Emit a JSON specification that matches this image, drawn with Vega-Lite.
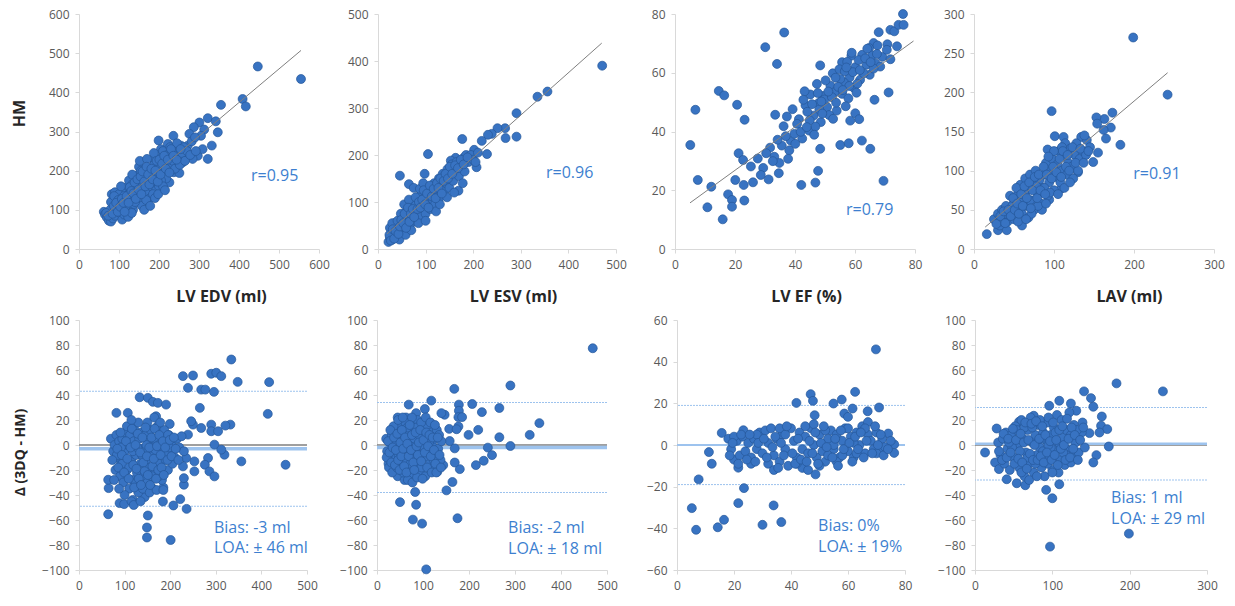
{
"$schema":"https://vega.github.io/schema/vega-lite/v6.json",
"padding":{"left":11,"top":8,"right":5,"bottom":5},
"config":{"view":{"stroke":null},"font":"Open Sans",
"axis":{"domainColor":"#d9d9d9","tickColor":"#d9d9d9","labelColor":"#595959","labelFont":"Open Sans","labelFontSize":12,"grid":false,"tickSize":4,"labelPadding":6,"titleFont":"Open Sans","titleFontWeight":"bold","titleColor":"#262626","titleFontSize":16,"labelFlush":false,"labelOverlap":false},
"circle":{"size":80,"fill":"#3873c2","stroke":"#25579a","strokeWidth":0.7,"opacity":1},
"text":{"font":"Open Sans","fontSize":16,"color":"#3d7fd0","align":"left","baseline":"middle"}},
"datasets":{
"edv_s":[{"x":447,"y":466},{"x":555,"y":434},{"x":409,"y":383},{"x":417,"y":364},{"x":355,"y":368},{"x":322,"y":334},{"x":342,"y":326},{"x":347,"y":298},{"x":332,"y":264},{"x":301,"y":323},{"x":313,"y":305},{"x":287,"y":311},{"x":305,"y":289},{"x":276,"y":294},{"x":272,"y":264},{"x":236,"y":289},{"x":199,"y":277},{"x":205,"y":255},{"x":226,"y":170},{"x":237,"y":196},{"x":251,"y":194},{"x":255,"y":264},{"x":222,"y":268},{"x":267,"y":238},{"x":297,"y":238},{"x":309,"y":255},{"x":284,"y":230},{"x":322,"y":230},{"x":247,"y":230},{"x":259,"y":221},
{"x":62,"y":95},{"x":65,"y":88},{"x":70,"y":80},{"x":75,"y":72},{"x":80,"y":70},{"x":85,"y":78},{"x":78,"y":100},{"x":80,"y":120},{"x":82,"y":140},{"x":90,"y":145},{"x":95,"y":130},{"x":100,"y":140},{"x":100,"y":115},{"x":95,"y":100},{"x":90,"y":85},{"x":105,"y":90},{"x":110,"y":100},{"x":115,"y":125},{"x":118,"y":150},{"x":122,"y":160},{"x":125,"y":140},{"x":128,"y":105},{"x":130,"y":120},{"x":135,"y":100},{"x":138,"y":130},{"x":140,"y":150},{"x":143,"y":175},{"x":145,"y":160},{"x":148,"y":190},{"x":150,"y":210},{"x":152,"y":225},{"x":155,"y":200},{"x":158,"y":165},{"x":160,"y":140},{"x":162,"y":120},{"x":165,"y":150},{"x":168,"y":185},{"x":170,"y":200},{"x":172,"y":170},{"x":175,"y":145},{"x":178,"y":130},{"x":180,"y":160},{"x":183,"y":195},{"x":185,"y":230},{"x":188,"y":215},{"x":190,"y":175},{"x":193,"y":150},{"x":195,"y":185},{"x":198,"y":200},{"x":200,"y":160},{"x":203,"y":210},{"x":206,"y":235},{"x":210,"y":250},{"x":212,"y":195},{"x":215,"y":220},{"x":218,"y":180},{"x":220,"y":240},{"x":225,"y":210},{"x":228,"y":260},{"x":232,"y":245},{"x":235,"y":225},{"x":240,"y":205},{"x":242,"y":250},{"x":245,"y":270},{"x":250,"y":240},{"x":252,"y":215},{"x":258,"y":245},{"x":262,"y":260},{"x":265,"y":225},{"x":270,"y":250},{"x":278,"y":240},{"x":282,"y":275},{"x":290,"y":285},{"x":292,"y":250},{"x":108,"y":75},{"x":113,"y":88},{"x":120,"y":95},{"x":123,"y":82},{"x":132,"y":92},{"x":137,"y":115},{"x":147,"y":135},{"x":153,"y":128},{"x":157,"y":110},{"x":163,"y":100},{"x":168,"y":125},{"x":178,"y":110},{"x":185,"y":140},{"x":190,"y":130},{"x":198,"y":140},{"x":205,"y":175},{"x":210,"y":160},{"x":215,"y":150},{"x":125,"y":175},{"x":133,"y":165},{"x":145,"y":140},{"x":105,"y":160},{"x":88,"y":135},{"x":98,"y":125},{"x":112,"y":135},{"x":140,"y":120},{"x":117,"y":110},{"x":160,"y":180},{"x":170,"y":230},{"x":175,"y":205},{"x":152,"y":165},{"x":133,"y":190},
{"x":68,"y":92},{"x":73,"y":85},{"x":84,"y":90},{"x":87,"y":110},{"x":93,"y":118},{"x":97,"y":95},{"x":103,"y":108},{"x":107,"y":128},{"x":111,"y":118},{"x":114,"y":95},{"x":119,"y":135},{"x":124,"y":118},{"x":127,"y":158},{"x":131,"y":148},{"x":136,"y":142},{"x":139,"y":170},{"x":142,"y":128},{"x":146,"y":178},{"x":149,"y":152},{"x":154,"y":185},{"x":156,"y":140},{"x":159,"y":198},{"x":163,"y":172},{"x":166,"y":160},{"x":169,"y":210},{"x":173,"y":190},{"x":176,"y":165},{"x":181,"y":205},{"x":184,"y":178},{"x":187,"y":245},{"x":191,"y":200},{"x":194,"y":225},{"x":197,"y":172},{"x":201,"y":228},{"x":204,"y":190},{"x":208,"y":218},{"x":213,"y":238},{"x":217,"y":205},{"x":222,"y":228},{"x":226,"y":195},{"x":230,"y":255},{"x":236,"y":238},{"x":244,"y":228},{"x":254,"y":255}],
"esv_s":[{"x":471,"y":390},{"x":356,"y":335},{"x":335,"y":324},{"x":291,"y":289},{"x":291,"y":239},{"x":268,"y":236},{"x":267,"y":257},{"x":251,"y":257},{"x":239,"y":245},{"x":231,"y":243},{"x":218,"y":230},{"x":229,"y":202},{"x":177,"y":234},{"x":105,"y":202},{"x":46,"y":156},{"x":98,"y":160},{"x":207,"y":174},{"x":202,"y":211},{"x":169,"y":124},{"x":65,"y":138},{"x":181,"y":195},{"x":163,"y":194},{"x":153,"y":188},
{"x":22,"y":15},{"x":25,"y":25},{"x":28,"y":35},{"x":30,"y":20},{"x":33,"y":40},{"x":35,"y":30},{"x":38,"y":50},{"x":40,"y":25},{"x":42,"y":45},{"x":45,"y":60},{"x":48,"y":35},{"x":50,"y":50},{"x":52,"y":70},{"x":55,"y":45},{"x":55,"y":95},{"x":58,"y":60},{"x":60,"y":80},{"x":62,"y":40},{"x":65,"y":70},{"x":68,"y":90},{"x":70,"y":55},{"x":72,"y":100},{"x":75,"y":75},{"x":78,"y":60},{"x":80,"y":95},{"x":82,"y":110},{"x":85,"y":80},{"x":88,"y":70},{"x":90,"y":100},{"x":92,"y":120},{"x":95,"y":90},{"x":98,"y":110},{"x":100,"y":75},{"x":102,"y":130},{"x":105,"y":100},{"x":108,"y":115},{"x":110,"y":85},{"x":112,"y":125},{"x":115,"y":105},{"x":118,"y":140},{"x":120,"y":95},{"x":122,"y":80},{"x":125,"y":120},{"x":128,"y":150},{"x":130,"y":110},{"x":133,"y":135},{"x":136,"y":160},{"x":140,"y":125},{"x":143,"y":140},{"x":146,"y":170},{"x":150,"y":130},{"x":152,"y":155},{"x":155,"y":180},{"x":158,"y":145},{"x":160,"y":165},{"x":165,"y":185},{"x":170,"y":155},{"x":175,"y":175},{"x":178,"y":140},{"x":182,"y":165},{"x":185,"y":200},{"x":190,"y":185},{"x":195,"y":200},{"x":200,"y":190},{"x":205,"y":185},{"x":210,"y":205},{"x":45,"y":20},{"x":58,"y":30},{"x":70,"y":40},{"x":85,"y":55},{"x":100,"y":60},{"x":65,"y":105},{"x":75,"y":130},{"x":88,"y":128},{"x":35,"y":55},{"x":48,"y":75},{"x":60,"y":50},{"x":95,"y":140},{"x":115,"y":120},{"x":130,"y":95},{"x":145,"y":110},{"x":160,"y":120},{"x":25,"y":45},{"x":30,"y":55},
{"x":24,"y":30},{"x":27,"y":18},{"x":31,"y":42},{"x":34,"y":22},{"x":37,"y":38},{"x":41,"y":60},{"x":43,"y":32},{"x":46,"y":48},{"x":49,"y":62},{"x":53,"y":55},{"x":56,"y":75},{"x":59,"y":45},{"x":63,"y":88},{"x":66,"y":58},{"x":69,"y":75},{"x":73,"y":85},{"x":76,"y":68},{"x":79,"y":110},{"x":83,"y":85},{"x":86,"y":100},{"x":89,"y":88},{"x":93,"y":105},{"x":96,"y":125},{"x":99,"y":95},{"x":103,"y":118},{"x":106,"y":88},{"x":109,"y":135},{"x":113,"y":112},{"x":117,"y":128},{"x":121,"y":108},{"x":124,"y":140},{"x":127,"y":130},{"x":131,"y":150},{"x":134,"y":118},{"x":138,"y":145},{"x":142,"y":160},{"x":147,"y":150},{"x":151,"y":175},{"x":156,"y":160},{"x":162,"y":178},{"x":168,"y":172},{"x":174,"y":190},{"x":180,"y":180},{"x":188,"y":195}],
"ef_s":[{"x":5.1,"y":35.4},{"x":6.8,"y":47.4},{"x":7.6,"y":23.5},{"x":10.8,"y":14.2},{"x":12.1,"y":21.2},{"x":14.6,"y":53.8},{"x":15.9,"y":10.1},{"x":16.4,"y":52.3},{"x":17.7,"y":18.6},{"x":19,"y":16.7},{"x":19,"y":14.4},{"x":20.7,"y":49.1},{"x":21.2,"y":32.6},{"x":23.1,"y":16.5},{"x":23.2,"y":44},{"x":20.1,"y":23.5},{"x":22.9,"y":21.8},{"x":26,"y":22.7},{"x":30.1,"y":68.7},{"x":34,"y":63},{"x":36.4,"y":73.7},{"x":33.4,"y":45.7},{"x":31.2,"y":23.7},{"x":34.6,"y":25.8},{"x":42.1,"y":21.8},{"x":46.8,"y":22.6},{"x":47.7,"y":26.6},{"x":48.4,"y":34.1},{"x":48.4,"y":62.5},{"x":55.1,"y":35.4},{"x":57.9,"y":36},{"x":58.4,"y":43.7},{"x":60.1,"y":46.2},{"x":61.4,"y":44.2},{"x":62.3,"y":36.9},{"x":65.1,"y":34.1},{"x":66.5,"y":50.8},{"x":69.5,"y":23.2},{"x":71.2,"y":53.3},{"x":55.7,"y":63.6},{"x":58.8,"y":65.8},{"x":67.9,"y":73.8},{"x":71.8,"y":74.6},{"x":73.1,"y":74.1},{"x":76,"y":80},{"x":74.5,"y":76.3},{"x":76.2,"y":76.3},{"x":74,"y":69},{"x":70.8,"y":69.7},{"x":66.2,"y":70.1},{"x":64.7,"y":68.4},
{"x":41.3,"y":44.2},{"x":55.7,"y":52.8},{"x":33.1,"y":31.4},{"x":62.4,"y":66.1},{"x":47.9,"y":49.7},{"x":38.6,"y":36.9},{"x":58.2,"y":58.4},{"x":44.7,"y":40.3},{"x":51.8,"y":55.6},{"x":66.8,"y":63.2},{"x":29.4,"y":27.6},{"x":53.9,"y":47.1},{"x":60.1,"y":61.9},{"x":36.2,"y":41.8},{"x":49.3,"y":52.1},{"x":57.4,"y":63.7},{"x":43.5,"y":48.9},{"x":64.9,"y":59.3},{"x":31.7,"y":34.5},{"x":46.2,"y":45.4},{"x":52.6,"y":59.8},{"x":39.8,"y":39.2},{"x":69.1,"y":65.4},{"x":56.3,"y":56.7},{"x":48.6,"y":43.2},{"x":61.7,"y":57.6},{"x":34.8,"y":29.3},{"x":45.1,"y":52.6},{"x":54.8,"y":61.2},{"x":42.4,"y":37.6},{"x":67.5,"y":69.3},{"x":50.7,"y":48.3},{"x":59.6,"y":54.9},{"x":37.3,"y":45.1},{"x":63.8,"y":62.7},{"x":27.6,"y":30.8},{"x":53.2,"y":53.4},{"x":47.3,"y":56.2},{"x":58.9,"y":66.8},{"x":40.7,"y":42.6},{"x":65.7,"y":65.9},{"x":44.1,"y":46.7},{"x":55.1,"y":57.9},{"x":49.8,"y":50.9},{"x":35.6,"y":35.2},{"x":61.2,"y":64.3},{"x":51.4,"y":45.6},{"x":57.8,"y":51.3},{"x":46.8,"y":41.7},{"x":68.4,"y":62.1},{"x":43.2,"y":53.7},{"x":38.1,"y":33.6},{"x":62.9,"y":59.8},{"x":52.3,"y":51.7},{"x":56.6,"y":60.5},{"x":48.1,"y":47.5},{"x":70.6,"y":67.8},{"x":41.9,"y":39.9},{"x":59.3,"y":60.2},{"x":54.4,"y":55.2},{"x":32.6,"y":29.9},{"x":45.7,"y":49.3},{"x":64.1,"y":68.2},{"x":50.2,"y":57.4},{"x":60.8,"y":56.3},{"x":39.2,"y":47.6},{"x":66.2,"y":61.4},{"x":53.7,"y":49.8},{"x":47.6,"y":53.1},{"x":58.1,"y":55.5},{"x":44.9,"y":43.8},{"x":71.8,"y":64.6},{"x":63.4,"y":64.9},{"x":55.9,"y":54.1},{"x":49.1,"y":46.1},{"x":36.9,"y":38.4},{"x":42.8,"y":50.8},{"x":57.1,"y":61.8},{"x":61.6,"y":60.9},{"x":51.1,"y":53.6},{"x":30.4,"y":32.6},{"x":46.4,"y":38.9},{"x":53.5,"y":58.3},{"x":65.2,"y":63.6},{"x":40.1,"y":35.8},{"x":67.3,"y":66.4},{"x":48.8,"y":50.2},{"x":25.3,"y":28.1},{"x":22.7,"y":30.3},{"x":34.2,"y":37.2},{"x":56.9,"y":48.6},{"x":43.9,"y":41.5},{"x":52.7,"y":44.3},{"x":37.7,"y":30.7},{"x":28.6,"y":25.2},{"x":60.5,"y":53.2}],
"lav_s":[{"x":199,"y":270},{"x":242,"y":197},{"x":97,"y":176},{"x":173,"y":174},{"x":183,"y":133},{"x":171,"y":155},{"x":163,"y":166},{"x":153,"y":168},{"x":154,"y":160},{"x":162,"y":152},{"x":165,"y":141},{"x":155,"y":123},{"x":149,"y":111},{"x":130,"y":98},{"x":94,"y":63},{"x":134,"y":143},{"x":141,"y":139},{"x":101,"y":144},{"x":112,"y":143},{"x":92,"y":127},{"x":109,"y":77},{"x":16,"y":19},{"x":30,"y":24},{"x":41,"y":24},
{"x":25,"y":38},{"x":30,"y":45},{"x":32,"y":30},{"x":35,"y":50},{"x":38,"y":40},{"x":40,"y":55},{"x":42,"y":35},{"x":45,"y":68},{"x":47,"y":48},{"x":50,"y":60},{"x":52,"y":42},{"x":55,"y":70},{"x":57,"y":52},{"x":58,"y":82},{"x":60,"y":45},{"x":62,"y":65},{"x":64,"y":90},{"x":65,"y":55},{"x":67,"y":75},{"x":68,"y":40},{"x":70,"y":95},{"x":72,"y":62},{"x":74,"y":85},{"x":75,"y":50},{"x":77,"y":100},{"x":80,"y":70},{"x":82,"y":88},{"x":84,"y":58},{"x":86,"y":78},{"x":88,"y":95},{"x":90,"y":110},{"x":92,"y":68},{"x":94,"y":85},{"x":96,"y":100},{"x":98,"y":115},{"x":100,"y":75},{"x":102,"y":92},{"x":104,"y":108},{"x":106,"y":125},{"x":108,"y":85},{"x":110,"y":100},{"x":112,"y":118},{"x":114,"y":135},{"x":116,"y":95},{"x":118,"y":110},{"x":120,"y":128},{"x":122,"y":105},{"x":124,"y":90},{"x":126,"y":120},{"x":128,"y":135},{"x":132,"y":115},{"x":136,"y":125},{"x":138,"y":145},{"x":140,"y":120},{"x":145,"y":130},{"x":60,"y":30},{"x":72,"y":45},{"x":85,"y":50},{"x":50,"y":38},{"x":55,"y":35},{"x":65,"y":38},{"x":78,"y":80},{"x":88,"y":78},{"x":95,"y":72},{"x":105,"y":70},{"x":113,"y":78},{"x":120,"y":85},{"x":48,"y":55},{"x":53,"y":78},{"x":63,"y":72},{"x":70,"y":62},{"x":80,"y":55},{"x":90,"y":58},{"x":100,"y":125},{"x":110,"y":130},{"x":115,"y":105},{"x":130,"y":100},{"x":35,"y":35},{"x":40,"y":45},
{"x":28,"y":32},{"x":33,"y":42},{"x":37,"y":48},{"x":39,"y":33},{"x":43,"y":50},{"x":46,"y":42},{"x":49,"y":65},{"x":51,"y":50},{"x":54,"y":58},{"x":56,"y":45},{"x":59,"y":70},{"x":61,"y":55},{"x":63,"y":80},{"x":66,"y":65},{"x":69,"y":85},{"x":71,"y":52},{"x":73,"y":75},{"x":76,"y":92},{"x":79,"y":65},{"x":81,"y":95},{"x":83,"y":75},{"x":87,"y":105},{"x":89,"y":70},{"x":91,"y":95},{"x":93,"y":118},{"x":97,"y":90},{"x":99,"y":105},{"x":103,"y":98},{"x":107,"y":115},{"x":109,"y":92},{"x":111,"y":125},{"x":117,"y":120},{"x":119,"y":100},{"x":123,"y":130},{"x":127,"y":110},{"x":133,"y":128},{"x":137,"y":110},{"x":143,"y":125}],
"edv_ba":[{"x":334,"y":68.4},{"x":417,"y":50.3},{"x":414,"y":24.9},{"x":348,"y":50.5},{"x":250,"y":55.6},{"x":228,"y":55.1},{"x":290,"y":57},{"x":301,"y":57.8},{"x":312,"y":55.1},{"x":239,"y":45.7},{"x":268,"y":44.3},{"x":277,"y":44.3},{"x":296,"y":42.5},{"x":265,"y":29.7},{"x":453,"y":-15.8},{"x":356,"y":-13.1},{"x":319,"y":-7.8},{"x":332,"y":16.3},{"x":321,"y":15.5},{"x":290,"y":16.3},{"x":290,"y":11},{"x":305,"y":11},{"x":297,"y":0.3},{"x":312,"y":-3.7},{"x":283,"y":-10.4},{"x":253,"y":-13.1},{"x":235,"y":-10.4},{"x":276,"y":-15.8},{"x":286,"y":-21.1},{"x":297,"y":-25.1},{"x":228,"y":-17.1},{"x":253,"y":-21.1},{"x":230,"y":-31.8},{"x":230,"y":-26.5},{"x":236,"y":-51.1},{"x":222,"y":-43.3},{"x":207,"y":-48.4},{"x":201,"y":-76},{"x":185,"y":-34},{"x":184,"y":-45.2},{"x":250,"y":16.3},{"x":246,"y":19},{"x":268,"y":13.6},{"x":239,"y":8.3},
{"x":64,"y":-55.4},{"x":65,"y":-34.5},{"x":64,"y":-27.8},{"x":89,"y":-46.5},{"x":99,"y":-47.3},{"x":118,"y":-43.9},{"x":144,"y":-41.7},{"x":151,"y":-56.4},{"x":149,"y":-66},{"x":149,"y":-74},{"x":82,"y":25.7},{"x":107,"y":25.7},{"x":133,"y":38.2},{"x":151,"y":37.7},{"x":162,"y":34.5},{"x":173,"y":33.7},{"x":191,"y":32.3},{"x":169,"y":23},{"x":118,"y":16.3},{"x":199,"y":16.8},
{"x":70,"y":5},{"x":75,"y":-5},{"x":78,"y":0},{"x":80,"y":-20},{"x":82,"y":8},{"x":85,"y":-10},{"x":88,"y":3},{"x":90,"y":-25},{"x":92,"y":-15},{"x":95,"y":5},{"x":97,"y":-30},{"x":100,"y":-5},{"x":102,"y":10},{"x":105,"y":-20},{"x":108,"y":0},{"x":110,"y":-35},{"x":112,"y":8},{"x":115,"y":-12},{"x":118,"y":-28},{"x":120,"y":3},{"x":122,"y":12},{"x":125,"y":-8},{"x":127,"y":-22},{"x":130,"y":-38},{"x":132,"y":5},{"x":135,"y":-15},{"x":137,"y":10},{"x":140,"y":-3},{"x":142,"y":-25},{"x":145,"y":8},{"x":147,"y":-12},{"x":150,"y":-30},{"x":152,"y":2},{"x":155,"y":-18},{"x":157,"y":12},{"x":160,"y":-6},{"x":162,"y":-35},{"x":165,"y":5},{"x":167,"y":-22},{"x":170,"y":-10},{"x":172,"y":15},{"x":175,"y":0},{"x":177,"y":-15},{"x":180,"y":8},{"x":182,"y":-28},{"x":185,"y":-3},{"x":187,"y":12},{"x":190,"y":-12},{"x":192,"y":2},{"x":195,"y":-20},{"x":197,"y":8},{"x":200,"y":-5},{"x":205,"y":3},{"x":210,"y":-10},{"x":215,"y":5},{"x":220,"y":-2},{"x":225,"y":7},{"x":230,"y":-5},{"x":100,"y":-40},{"x":115,"y":-45},{"x":125,"y":-30},{"x":140,"y":-35},{"x":155,"y":-38},{"x":170,"y":-36},{"x":185,"y":-36},{"x":95,"y":-15},{"x":105,"y":15},{"x":130,"y":18},{"x":150,"y":18},{"x":165,"y":22},{"x":178,"y":18},{"x":120,"y":-48},{"x":88,"y":-35},{"x":135,"y":-45},{"x":160,"y":-25},{"x":145,"y":-5},{"x":175,"y":-25},{"x":195,"y":8},{"x":205,"y":-15},{"x":115,"y":20},{"x":83,"y":-8},{"x":92,"y":-2},{"x":110,"y":-18},{"x":118,"y":-5},{"x":128,"y":-2},{"x":138,"y":-8},{"x":148,"y":0},{"x":158,"y":-2},{"x":168,"y":-4},{"x":188,"y":-6},{"x":198,"y":-2},
{"x":73,"y":-12},{"x":77,"y":-28},{"x":84,"y":-3},{"x":86,"y":-18},{"x":91,"y":10},{"x":94,"y":-8},{"x":99,"y":-22},{"x":103,"y":3},{"x":106,"y":-11},{"x":109,"y":-27},{"x":113,"y":-2},{"x":116,"y":13},{"x":119,"y":-16},{"x":121,"y":-34},{"x":124,"y":0},{"x":126,"y":-19},{"x":129,"y":9},{"x":131,"y":-27},{"x":134,"y":-6},{"x":136,"y":-32},{"x":139,"y":6},{"x":141,"y":-14},{"x":144,"y":-21},{"x":146,"y":14},{"x":149,"y":-9},{"x":151,"y":-24},{"x":154,"y":-2},{"x":156,"y":-32},{"x":159,"y":6},{"x":161,"y":-17},{"x":164,"y":-11},{"x":166,"y":13},{"x":169,"y":-27},{"x":171,"y":-1},{"x":174,"y":-20},{"x":176,"y":8},{"x":179,"y":-8},{"x":181,"y":-18},{"x":184,"y":3},{"x":186,"y":-24},{"x":189,"y":-2},{"x":194,"y":-12},{"x":199,"y":4},{"x":203,"y":-9},{"x":208,"y":6},{"x":212,"y":-3},{"x":218,"y":-12}],
"esv_ba":[{"x":469,"y":77.4},{"x":290,"y":47.6},{"x":168,"y":44.9},{"x":118,"y":35.5},{"x":69,"y":32.3},{"x":104,"y":28.8},{"x":207,"y":32.8},{"x":228,"y":26.3},{"x":266,"y":29.6},{"x":353,"y":17.5},{"x":332,"y":8.1},{"x":266,"y":6.2},{"x":290,"y":-0.8},{"x":241,"y":-2.1},{"x":250,"y":-8.1},{"x":232,"y":-12.6},{"x":215,"y":-16.1},{"x":220,"y":12.1},{"x":199,"y":8.1},{"x":178,"y":32.3},{"x":178,"y":27.4},{"x":177,"y":22.3},{"x":185,"y":22.3},{"x":177,"y":14.8},{"x":157,"y":12.9},{"x":173,"y":12.6},{"x":169,"y":-2.7},{"x":180,"y":-19.3},{"x":169,"y":-14},{"x":164,"y":-29.6},{"x":151,"y":-36.3},{"x":83,"y":-37.6},{"x":50,"y":-45.7},{"x":85,"y":-47.8},{"x":78,"y":-59.7},{"x":98,"y":-62.9},{"x":175,"y":-58.6},{"x":107,"y":-99.5},{"x":147,"y":24.2},{"x":140,"y":25.5},{"x":158,"y":3.2},{"x":144,"y":-16.1},{"x":131,"y":-21.5},{"x":45,"y":22},{"x":63,"y":22},{"x":85,"y":25.5},
{"x":20,"y":5},{"x":22,"y":-5},{"x":25,"y":-15},{"x":28,"y":2},{"x":30,"y":-8},{"x":32,"y":8},{"x":35,"y":-20},{"x":38,"y":0},{"x":40,"y":12},{"x":42,"y":-10},{"x":45,"y":-25},{"x":48,"y":5},{"x":50,"y":15},{"x":52,"y":-5},{"x":55,"y":-15},{"x":58,"y":8},{"x":60,"y":-28},{"x":62,"y":18},{"x":65,"y":-3},{"x":68,"y":10},{"x":70,"y":-20},{"x":72,"y":3},{"x":75,"y":-10},{"x":78,"y":15},{"x":80,"y":-25},{"x":82,"y":5},{"x":85,"y":-5},{"x":88,"y":20},{"x":90,"y":-15},{"x":92,"y":8},{"x":95,"y":-22},{"x":98,"y":0},{"x":100,"y":12},{"x":102,"y":-10},{"x":105,"y":-25},{"x":108,"y":5},{"x":110,"y":15},{"x":112,"y":-5},{"x":115,"y":-15},{"x":118,"y":10},{"x":120,"y":0},{"x":122,"y":-18},{"x":125,"y":5},{"x":128,"y":-8},{"x":130,"y":12},{"x":133,"y":-3},{"x":135,"y":8},{"x":138,"y":-12},{"x":140,"y":3},{"x":26,"y":-18},{"x":33,"y":-22},{"x":43,"y":-18},{"x":57,"y":-22},{"x":67,"y":-28},{"x":77,"y":-30},{"x":87,"y":-26},{"x":97,"y":-18},{"x":47,"y":-8},{"x":63,"y":-12},{"x":73,"y":-15},{"x":83,"y":-12},{"x":93,"y":-8},{"x":103,"y":-2},{"x":113,"y":2},{"x":123,"y":-12},{"x":36,"y":15},{"x":46,"y":20},{"x":56,"y":22},{"x":66,"y":14},{"x":76,"y":22},{"x":86,"y":14},{"x":96,"y":18},{"x":106,"y":22},{"x":116,"y":18},{"x":126,"y":16},
{"x":21,"y":-10},{"x":24,"y":3},{"x":27,"y":-6},{"x":29,"y":12},{"x":31,"y":-14},{"x":34,"y":-2},{"x":37,"y":6},{"x":39,"y":-16},{"x":41,"y":-4},{"x":44,"y":9},{"x":46,"y":-12},{"x":49,"y":-20},{"x":51,"y":2},{"x":53,"y":-9},{"x":54,"y":12},{"x":57,"y":-3},{"x":59,"y":-17},{"x":61,"y":6},{"x":64,"y":-22},{"x":66,"y":1},{"x":69,"y":-9},{"x":71,"y":16},{"x":74,"y":-4},{"x":76,"y":8},{"x":79,"y":-14},{"x":81,"y":-20},{"x":84,"y":10},{"x":86,"y":-1},{"x":89,"y":-8},{"x":91,"y":2},{"x":94,"y":12},{"x":96,"y":-13},{"x":99,"y":-27},{"x":101,"y":4},{"x":104,"y":-6},{"x":107,"y":10},{"x":109,"y":-18},{"x":111,"y":-1},{"x":114,"y":8},{"x":117,"y":-9},{"x":119,"y":-22},{"x":121,"y":6},{"x":124,"y":-4},{"x":127,"y":-15},{"x":129,"y":-22},{"x":132,"y":6},{"x":136,"y":-8},{"x":139,"y":-18}],
"ef_ba":[{"x":69.8,"y":45.9},{"x":62.5,"y":25.5},{"x":46.9,"y":24.4},{"x":47.7,"y":21.2},{"x":41.9,"y":20.2},{"x":54.9,"y":19.9},{"x":57.8,"y":21.8},{"x":70.9,"y":18},{"x":61.6,"y":17.5},{"x":58.7,"y":15.1},{"x":60,"y":13.5},{"x":66.9,"y":16.2},{"x":48.3,"y":14.3},{"x":74.1,"y":5.5},{"x":15.7,"y":5.8},{"x":11.2,"y":-3.4},{"x":12.2,"y":-9},{"x":7.6,"y":-16.5},{"x":5.2,"y":-30.3},{"x":6.7,"y":-40.7},{"x":14.3,"y":-39.5},{"x":16.5,"y":-35.9},{"x":21.5,"y":-27.9},{"x":23.5,"y":-20.7},{"x":30,"y":-38.3},{"x":33.9,"y":-29},{"x":36.6,"y":-37},{"x":48.6,"y":-14.1},{"x":21.5,"y":-10.9},{"x":23.3,"y":7.1},{"x":76.2,"y":0.3},{"x":76.2,"y":-3.8},
{"x":18,"y":3},{"x":19,"y":-2},{"x":20,"y":-7},{"x":21,"y":2},{"x":22,"y":-5},{"x":23,"y":4},{"x":24,"y":-3},{"x":25,"y":1},{"x":26,"y":-6},{"x":27,"y":3},{"x":28,"y":-2},{"x":29,"y":6},{"x":30,"y":-4},{"x":31,"y":7},{"x":32,"y":1},{"x":32,"y":-9},{"x":33,"y":8},{"x":34,"y":-5},{"x":35,"y":3},{"x":36,"y":-8},{"x":37,"y":5},{"x":38,"y":-2},{"x":39,"y":-10},{"x":40,"y":8},{"x":41,"y":2},{"x":42,"y":-6},{"x":43,"y":6},{"x":44,"y":-2},{"x":44,"y":-11},{"x":45,"y":4},{"x":46,"y":-4},{"x":47,"y":8},{"x":48,"y":0},{"x":49,"y":-6},{"x":50,"y":5},{"x":51,"y":-3},{"x":52,"y":-8},{"x":53,"y":3},{"x":54,"y":7},{"x":55,"y":-2},{"x":56,"y":5},{"x":57,"y":-6},{"x":58,"y":2},{"x":59,"y":8},{"x":60,"y":-3},{"x":61,"y":4},{"x":62,"y":-6},{"x":63,"y":6},{"x":64,"y":0},{"x":65,"y":9},{"x":66,"y":-4},{"x":67,"y":5},{"x":67,"y":11},{"x":68,"y":2},{"x":69,"y":-2},{"x":70,"y":6},{"x":71,"y":-3},{"x":72,"y":3},{"x":73,"y":-1},{"x":75,"y":2},{"x":20,"y":4},{"x":26,"y":-9},{"x":34,"y":-12},{"x":42,"y":-9},{"x":50,"y":-10},{"x":56,"y":-8},{"x":63,"y":-4},{"x":70,"y":-4},{"x":28,"y":5},{"x":36,"y":8},{"x":45,"y":9},{"x":52,"y":7},{"x":60,"y":8},{"x":66,"y":8},{"x":46,"y":-12},{"x":38,"y":5},{"x":55,"y":0},{"x":62,"y":1},{"x":48,"y":10},{"x":53,"y":-5},{"x":58,"y":-5},
{"x":18.5,"y":-5},{"x":19.5,"y":1},{"x":21.5,"y":-9},{"x":22.5,"y":5},{"x":24.5,"y":-7},{"x":25.5,"y":5},{"x":27.5,"y":-8},{"x":28.5,"y":1},{"x":30.5,"y":3},{"x":31.5,"y":-6},{"x":33.5,"y":-1},{"x":34.5,"y":4},{"x":35.5,"y":-11},{"x":36.5,"y":1},{"x":37.5,"y":-5},{"x":38.5,"y":9},{"x":40.5,"y":-4},{"x":41.5,"y":-9},{"x":42.5,"y":3},{"x":43.5,"y":-7},{"x":45.5,"y":-8},{"x":46.5,"y":2},{"x":47.5,"y":-4},{"x":48.5,"y":6},{"x":49.5,"y":-9},{"x":50.5,"y":1},{"x":51.5,"y":9},{"x":52.5,"y":-1},{"x":54.5,"y":-6},{"x":55.5,"y":3},{"x":56.5,"y":-10},{"x":57.5,"y":7},{"x":58.5,"y":-2},{"x":60.5,"y":1},{"x":61.5,"y":-8},{"x":62.5,"y":4},{"x":63.5,"y":-2},{"x":64.5,"y":6},{"x":65.5,"y":-6},{"x":66.5,"y":2},{"x":68.5,"y":-4},{"x":69.5,"y":9},{"x":70.5,"y":0},{"x":71.5,"y":5},{"x":72.5,"y":-5},{"x":74,"y":-2}],
"lav_ba":[{"x":243,"y":42.9},{"x":183,"y":49.3},{"x":141,"y":42.9},{"x":150,"y":37.5},{"x":153,"y":30.6},{"x":164,"y":22.8},{"x":139,"y":18},{"x":163,"y":15.4},{"x":171,"y":12.7},{"x":161,"y":10},{"x":148,"y":9.5},{"x":173,"y":-1.2},{"x":157,"y":-8.1},{"x":153,"y":-14},{"x":109,"y":-31.4},{"x":92,"y":-35.9},{"x":100,"y":-42.6},{"x":97,"y":-81.3},{"x":199,"y":-70.9},{"x":13,"y":-6},{"x":26,"y":-14},{"x":31,"y":-19.3},{"x":41,"y":-27.4},{"x":54,"y":-30.6},{"x":65,"y":-32.2},{"x":96,"y":31.4},{"x":109,"y":35.4},{"x":124,"y":33.2},{"x":131,"y":27.4},{"x":76,"y":23.4},{"x":57,"y":18.6},{"x":28,"y":13.2},
{"x":30,"y":2},{"x":33,"y":-8},{"x":36,"y":5},{"x":38,"y":-15},{"x":40,"y":10},{"x":42,"y":-3},{"x":45,"y":-20},{"x":47,"y":8},{"x":50,"y":-10},{"x":52,"y":15},{"x":55,"y":0},{"x":57,"y":-18},{"x":60,"y":20},{"x":62,"y":5},{"x":64,"y":-25},{"x":66,"y":-6},{"x":68,"y":12},{"x":70,"y":-15},{"x":72,"y":22},{"x":74,"y":2},{"x":76,"y":-22},{"x":78,"y":8},{"x":80,"y":-8},{"x":82,"y":16},{"x":84,"y":-2},{"x":86,"y":-18},{"x":88,"y":10},{"x":90,"y":-25},{"x":92,"y":4},{"x":94,"y":18},{"x":96,"y":-10},{"x":98,"y":8},{"x":100,"y":-20},{"x":102,"y":14},{"x":104,"y":-4},{"x":106,"y":24},{"x":108,"y":2},{"x":110,"y":-12},{"x":112,"y":20},{"x":114,"y":6},{"x":116,"y":-16},{"x":118,"y":12},{"x":120,"y":-4},{"x":122,"y":26},{"x":124,"y":8},{"x":126,"y":-8},{"x":128,"y":16},{"x":130,"y":2},{"x":134,"y":-6},{"x":138,"y":10},{"x":142,"y":-2},{"x":48,"y":-2},{"x":58,"y":-5},{"x":68,"y":-10},{"x":78,"y":-15},{"x":88,"y":-5},{"x":98,"y":-2},{"x":108,"y":-22},{"x":118,"y":-8},{"x":44,"y":2},{"x":54,"y":12},{"x":64,"y":14},{"x":74,"y":14},{"x":84,"y":20},{"x":94,"y":-15},{"x":104,"y":10},{"x":114,"y":-6},{"x":124,"y":-14},{"x":132,"y":12},{"x":70,"y":-28},{"x":80,"y":-25},{"x":100,"y":-22},{"x":60,"y":-22},{"x":85,"y":5},{"x":95,"y":0},
{"x":31,"y":-5},{"x":35,"y":-12},{"x":37,"y":9},{"x":41,"y":-10},{"x":43,"y":5},{"x":46,"y":-6},{"x":49,"y":13},{"x":51,"y":-15},{"x":53,"y":4},{"x":56,"y":-11},{"x":59,"y":9},{"x":61,"y":-14},{"x":63,"y":2},{"x":65,"y":18},{"x":67,"y":-19},{"x":69,"y":4},{"x":71,"y":-7},{"x":73,"y":17},{"x":75,"y":-12},{"x":77,"y":0},{"x":79,"y":19},{"x":81,"y":-12},{"x":83,"y":5},{"x":85,"y":-9},{"x":87,"y":15},{"x":89,"y":-14},{"x":91,"y":8},{"x":93,"y":-6},{"x":95,"y":22},{"x":97,"y":3},{"x":99,"y":-12},{"x":101,"y":18},{"x":103,"y":-8},{"x":105,"y":4},{"x":107,"y":-16},{"x":109,"y":12},{"x":111,"y":-3},{"x":113,"y":15},{"x":115,"y":0},{"x":117,"y":-12},{"x":119,"y":21},{"x":121,"y":5},{"x":123,"y":-10},{"x":125,"y":14},{"x":127,"y":-3},{"x":129,"y":8},{"x":133,"y":-12},{"x":136,"y":4},{"x":140,"y":14}],
"edv_fit":[{"x":62,"y":84},{"x":555,"y":507}],
"esv_fit":[{"x":19,"y":32},{"x":470,"y":438}],
"ef_fit":[{"x":5,"y":15.7},{"x":79.5,"y":70.8}],
"lav_fit":[{"x":14,"y":28},{"x":242,"y":225}],
"edv_r":[{"x":430,"y":186,"label":"r=0.95"}],
"esv_r":[{"x":353,"y":162,"label":"r=0.96"}],
"ef_r":[{"x":57,"y":13.3,"label":"r=0.79"}],
"lav_r":[{"x":199,"y":96,"label":"r=0.91"}],
"edv_lines":[{"kind":"loa","y":43},{"kind":"loa","y":-49},{"kind":"zero","y":0},{"kind":"bias","y":-3}],
"esv_lines":[{"kind":"loa","y":34},{"kind":"loa","y":-38},{"kind":"zero","y":0},{"kind":"bias","y":-2}],
"ef_lines":[{"kind":"loa","y":19},{"kind":"loa","y":-19},{"kind":"bias","y":0}],
"lav_lines":[{"kind":"loa","y":30},{"kind":"loa","y":-28},{"kind":"zero","y":0},{"kind":"bias","y":1}],
"edv_t":[{"x":296,"y":-66,"label":"Bias: -3 ml"},{"x":296,"y":-82,"label":"LOA: ± 46 ml"}],
"esv_t":[{"x":285,"y":-66,"label":"Bias: -2 ml"},{"x":285,"y":-83,"label":"LOA: ± 18 ml"}],
"ef_t":[{"x":49.5,"y":-38.8,"label":"Bias: 0%"},{"x":49.5,"y":-48.9,"label":"LOA: ± 19%"}],
"lav_t":[{"x":176,"y":-42.4,"label":"Bias: 1 ml"},{"x":176,"y":-59.2,"label":"LOA: ± 29 ml"}]
},
"spacing":10,
"vconcat":[
{"bounds":"flush","spacing":59,"hconcat":[
{"width":240,"height":235,
"encoding":{"x":{"field":"x","type":"quantitative","scale":{"domain":[0,600]},"axis":{"values":[0,100,200,300,400,500,600],"title":"LV EDV (ml)","titleX":142,"titleY":39}},
"y":{"field":"y","type":"quantitative","scale":{"domain":[0,600]},"axis":{"values":[0,100,200,300,400,500,600],"title":"HM","titleFontSize":16,"titleY":99,"minExtent":40,"maxExtent":40,"titlePadding":12}}},
"layer":[{"data":{"name":"edv_s"},"mark":"circle"},{"data":{"name":"edv_fit"},"mark":{"type":"line","color":"#7f7f7f","strokeWidth":1}},{"data":{"name":"edv_r"},"mark":"text","encoding":{"text":{"field":"label"}}}]},
{"width":238,"height":235,
"encoding":{"x":{"field":"x","type":"quantitative","scale":{"domain":[0,500]},"axis":{"values":[0,100,200,300,400,500],"title":"LV ESV (ml)","titleX":135,"titleY":39}},
"y":{"field":"y","type":"quantitative","scale":{"domain":[0,500]},"axis":{"values":[0,100,200,300,400,500],"title":null}}},
"layer":[{"data":{"name":"esv_s"},"mark":"circle"},{"data":{"name":"esv_fit"},"mark":{"type":"line","color":"#7f7f7f","strokeWidth":1}},{"data":{"name":"esv_r"},"mark":"text","encoding":{"text":{"field":"label"}}}]},
{"width":240,"height":235,
"encoding":{"x":{"field":"x","type":"quantitative","scale":{"domain":[0,80]},"axis":{"values":[0,20,40,60,80],"title":"LV EF (%)","titleX":131,"titleY":39}},
"y":{"field":"y","type":"quantitative","scale":{"domain":[0,80]},"axis":{"values":[0,20,40,60,80],"title":null}}},
"layer":[{"data":{"name":"ef_s"},"mark":"circle"},{"data":{"name":"ef_fit"},"mark":{"type":"line","color":"#7f7f7f","strokeWidth":1}},{"data":{"name":"ef_r"},"mark":"text","encoding":{"text":{"field":"label"}}}]},
{"width":240,"height":235,
"encoding":{"x":{"field":"x","type":"quantitative","scale":{"domain":[0,300]},"axis":{"values":[0,100,200,300],"title":"LAV (ml)","titleX":155,"titleY":39}},
"y":{"field":"y","type":"quantitative","scale":{"domain":[0,300]},"axis":{"values":[0,50,100,150,200,250,300],"title":null}}},
"layer":[{"data":{"name":"lav_s"},"mark":"circle"},{"data":{"name":"lav_fit"},"mark":{"type":"line","color":"#7f7f7f","strokeWidth":1}},{"data":{"name":"lav_r"},"mark":"text","encoding":{"text":{"field":"label"}}}]}
]},
{"bounds":"flush","spacing":70,"hconcat":[
{"width":228,"height":250,
"encoding":{"y":{"field":"y","type":"quantitative","scale":{"domain":[-100,100]},"axis":{"values":[-100,-80,-60,-40,-20,0,20,40,60,80,100],"title":"Δ (3DQ - HM)","titleFontSize":14,"titleY":132,"minExtent":40,"maxExtent":40,"titlePadding":12}}},
"layer":[
{"data":{"name":"edv_lines"},"transform":[{"filter":"datum.kind==='loa'"}],"mark":{"type":"rule","color":"#9dc3ee","strokeWidth":1,"strokeDash":[2,1]}},
{"data":{"name":"edv_lines"},"transform":[{"filter":"datum.kind==='zero'"}],"mark":{"type":"rule","color":"#7f7f7f","strokeWidth":1.5}},
{"data":{"name":"edv_lines"},"transform":[{"filter":"datum.kind==='bias'"}],"mark":{"type":"rule","color":"#9dc3ee","strokeWidth":3.5}},
{"data":{"name":"edv_ba"},"mark":"circle","encoding":{"x":{"field":"x","type":"quantitative","scale":{"domain":[0,500]},"axis":{"values":[0,100,200,300,400,500],"title":null}}}},
{"data":{"name":"edv_t"},"mark":"text","encoding":{"x":{"field":"x","type":"quantitative","scale":{"domain":[0,500]},"axis":{"values":[0,100,200,300,400,500],"title":null}},"text":{"field":"label"}}}]},
{"width":230,"height":250,
"encoding":{"y":{"field":"y","type":"quantitative","scale":{"domain":[-100,100]},"axis":{"values":[-100,-80,-60,-40,-20,0,20,40,60,80,100],"title":null}}},
"layer":[
{"data":{"name":"esv_lines"},"transform":[{"filter":"datum.kind==='loa'"}],"mark":{"type":"rule","color":"#9dc3ee","strokeWidth":1,"strokeDash":[2,1]}},
{"data":{"name":"esv_lines"},"transform":[{"filter":"datum.kind==='zero'"}],"mark":{"type":"rule","color":"#7f7f7f","strokeWidth":1.5}},
{"data":{"name":"esv_lines"},"transform":[{"filter":"datum.kind==='bias'"}],"mark":{"type":"rule","color":"#9dc3ee","strokeWidth":3.5}},
{"data":{"name":"esv_ba"},"mark":"circle","encoding":{"x":{"field":"x","type":"quantitative","scale":{"domain":[0,500]},"axis":{"values":[0,100,200,300,400,500],"title":null}}}},
{"data":{"name":"esv_t"},"mark":"text","encoding":{"x":{"field":"x","type":"quantitative","scale":{"domain":[0,500]},"axis":{"values":[0,100,200,300,400,500],"title":null}},"text":{"field":"label"}}}]},
{"width":228,"height":250,
"encoding":{"y":{"field":"y","type":"quantitative","scale":{"domain":[-60,60]},"axis":{"values":[-60,-40,-20,0,20,40,60],"title":null}}},
"layer":[
{"data":{"name":"ef_lines"},"transform":[{"filter":"datum.kind==='loa'"}],"mark":{"type":"rule","color":"#9dc3ee","strokeWidth":1,"strokeDash":[2,1]}},
{"data":{"name":"ef_lines"},"transform":[{"filter":"datum.kind==='bias'"}],"mark":{"type":"rule","color":"#9dc3ee","strokeWidth":2}},
{"data":{"name":"ef_ba"},"mark":"circle","encoding":{"x":{"field":"x","type":"quantitative","scale":{"domain":[0,80]},"axis":{"values":[0,20,40,60,80],"title":null}}}},
{"data":{"name":"ef_t"},"mark":"text","encoding":{"x":{"field":"x","type":"quantitative","scale":{"domain":[0,80]},"axis":{"values":[0,20,40,60,80],"title":null}},"text":{"field":"label"}}}]},
{"width":232,"height":250,
"encoding":{"y":{"field":"y","type":"quantitative","scale":{"domain":[-100,100]},"axis":{"values":[-100,-80,-60,-40,-20,0,20,40,60,80,100],"title":null}}},
"layer":[
{"data":{"name":"lav_lines"},"transform":[{"filter":"datum.kind==='loa'"}],"mark":{"type":"rule","color":"#9dc3ee","strokeWidth":1,"strokeDash":[2,1]}},
{"data":{"name":"lav_lines"},"transform":[{"filter":"datum.kind==='zero'"}],"mark":{"type":"rule","color":"#7f7f7f","strokeWidth":1.5}},
{"data":{"name":"lav_lines"},"transform":[{"filter":"datum.kind==='bias'"}],"mark":{"type":"rule","color":"#9dc3ee","strokeWidth":2.5}},
{"data":{"name":"lav_ba"},"mark":"circle","encoding":{"x":{"field":"x","type":"quantitative","scale":{"domain":[0,300]},"axis":{"values":[0,100,200,300],"title":null}}}},
{"data":{"name":"lav_t"},"mark":"text","encoding":{"x":{"field":"x","type":"quantitative","scale":{"domain":[0,300]},"axis":{"values":[0,100,200,300],"title":null}},"text":{"field":"label"}}}]}
]}
]
}
